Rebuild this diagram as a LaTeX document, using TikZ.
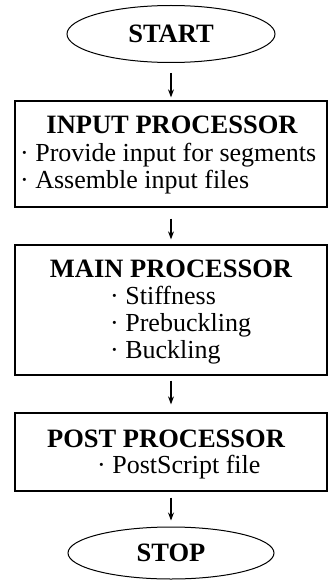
\documentclass[tikz,border=0pt]{standalone}
\usepackage{fontspec}
\setmainfont{Liberation Serif}
\usetikzlibrary{shapes.geometric,arrows.meta}
\begin{document}
\begin{tikzpicture}[x=1pt,y=-1pt,
  term/.style={draw,ellipse,line width=1pt,inner sep=0pt,font=\fontsize{26.5}{26.5}\selectfont\bfseries},
  proc/.style={draw,rectangle,line width=1.3pt,minimum width=312pt,inner sep=0pt},
  ttl/.style={font=\fontsize{26.5}{26.5}\selectfont\bfseries,inner sep=0pt,anchor=base},
  itm/.style={font=\fontsize{26}{26}\selectfont,inner sep=0pt,anchor=base west},
  arr/.style={line width=1.1pt,-{Stealth[length=8pt,width=6pt]}}]
\useasboundingbox (0,0) rectangle (330,580);
% terminals
\node[term,minimum width=208pt,minimum height=57pt] (start) at (171,34) {START};
\node[term,minimum width=206pt,minimum height=52pt] (stop) at (171,553) {STOP};
% boxes
\node[proc,minimum height=106pt] (inp) at (171,154) {};
\node[proc,minimum height=130pt] (main) at (171,310) {};
\node[proc,minimum height=78pt] (post) at (171,452) {};
% texts
\node[ttl] (inpT) at (172,134) {INPUT PROCESSOR};
\node[itm] (inp1) at (20,161) {· Provide input for segments};
\node[itm] (inp2) at (20,188) {· Assemble input files};
\node[ttl] (mainT) at (171,277) {MAIN PROCESSOR};
\node[itm] (main1) at (110,304) {· Stiffness};
\node[itm] (main2) at (110,331) {· Prebuckling};
\node[itm] (main3) at (110,358) {· Buckling};
\node[ttl] (postT) at (166,447) {POST PROCESSOR};
\node[itm] (post1) at (97,473) {· PostScript file};
% arrows
\draw[arr,shorten <=10pt,shorten >=3pt] (start) -- (inp);
\draw[arr,shorten <=11pt,shorten >=5pt] (inp) -- (main);
\draw[arr,shorten <=5pt,shorten >=8pt] (main) -- (post);
\draw[arr,shorten <=6pt,shorten >=6pt] (post) -- (stop);
\end{tikzpicture}
\end{document}
